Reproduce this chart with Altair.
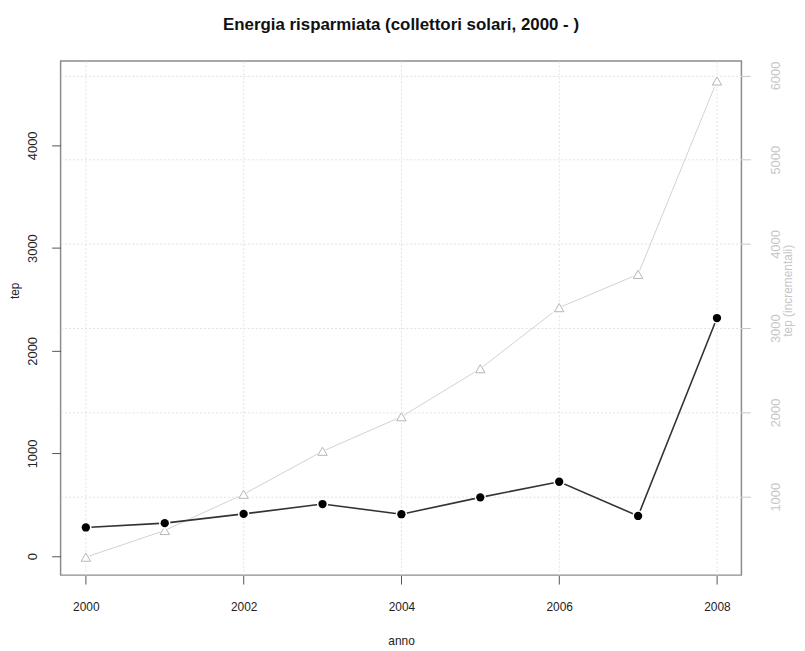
import altair as alt
import pandas as pd

# Data
anni = [2000, 2001, 2002, 2003, 2004, 2005, 2006, 2007, 2008]
tep = [280, 322, 412, 508, 409, 573, 725, 392, 2319]
tep_incrementali = [283, 600, 1030, 1540, 1950, 2520, 3245, 3640, 5935]

x_ticks = [2000, 2002, 2004, 2006, 2008]
left_ticks = [0, 1000, 2000, 3000, 4000]
right_ticks = [1000, 2000, 3000, 4000, 5000, 6000]

df = pd.DataFrame({"anno": anni, "tep": tep, "incr": tep_incrementali})

FONT = "Liberation Sans"
DARK = "#222222"
LIGHT = "#c6c6c6"
GRID = "#e2e2e2"

x_enc = alt.X(
    "anno:Q",
    scale=alt.Scale(domain=[1999.68, 2008.31], nice=False, zero=False),
    axis=alt.Axis(
        values=x_ticks, format="d", title="anno",
        grid=True, gridColor=GRID, gridDash=[2, 2], gridWidth=1,
        domain=False, tickSize=9, tickColor="#555555", tickWidth=1,
        labelPadding=18, labelFontSize=12, labelColor=DARK, labelFont=FONT,
        titleFontSize=12, titleFont=FONT, titleColor=DARK, titleFontWeight="normal",
        titlePadding=23, labelFlush=False,
    ),
)

yL = alt.Y(
    "tep:Q",
    scale=alt.Scale(domain=[-184, 4821], nice=False, zero=False),
    axis=alt.Axis(
        values=left_ticks, format="d", title="tep", orient="left",
        grid=False, domain=False, tickSize=9, tickColor="#555555",
        labelAngle=270, labelAlign="center", labelBaseline="bottom",
        labelPadding=12, labelFontSize=13, labelColor=DARK, labelFont=FONT,
        titleFontSize=12, titleFont=FONT, titleColor=DARK, titleFontWeight="normal",
        titlePadding=5, titleY=231,
    ),
)

yR = alt.Y(
    "incr:Q",
    scale=alt.Scale(domain=[70, 6172], nice=False, zero=False),
    axis=alt.Axis(
        values=right_ticks, format="d", title="tep (incrementali)", orient="right",
        grid=True, gridColor=GRID, gridDash=[2, 2], gridWidth=1,
        domain=False, tickSize=9, tickColor="#c8c8c8",
        labelAngle=270, labelAlign="center", labelBaseline="top",
        labelPadding=19, labelFontSize=13, labelColor=LIGHT, labelFont=FONT,
        titleFontSize=12, titleFont=FONT, titleColor=LIGHT, titleFontWeight="normal",
        titleAngle=270, titleBaseline="top", titlePadding=0, titleY=231,
    ),
)

base = alt.Chart(df)

gray_line = base.mark_line(color="#d2d2d2", strokeWidth=1).encode(x=x_enc, y=yR)
gray_halo = base.mark_point(shape="triangle-up", filled=True, color="white",
                            size=210, opacity=1).encode(x=x_enc, y=yR)
gray_pts = base.mark_point(shape="triangle-up", filled=False, color="#b5b5b5",
                           size=90, strokeWidth=1, opacity=1).encode(x=x_enc, y=yR)
gray = alt.layer(gray_line, gray_halo, gray_pts)

black_line = base.mark_line(color="#333333", strokeWidth=1.6).encode(x=x_enc, y=yL)
black_halo = base.mark_circle(color="white", size=130, opacity=1).encode(x=x_enc, y=yL)
black_pts = base.mark_circle(color="black", size=70, opacity=1).encode(x=x_enc, y=yL)
black = alt.layer(black_line, black_halo, black_pts)

chart = (
    alt.layer(gray, black)
    .resolve_scale(y="independent")
    .properties(
        width=686,
        height=518,
        autosize=alt.AutoSizeParams(type="none"),
        padding={"left": 53, "top": 51, "right": 56, "bottom": 73},
        background="white",
        title=alt.TitleParams(
            "Energia risparmiata (collettori solari, 2000 - )",
            fontSize=17, fontWeight="bold", font=FONT, color="#111111",
            anchor="middle", offset=14, baseline="alphabetic",
        ),
    )
    .configure_view(stroke="#8c8c8c", strokeWidth=1.5)
)

chart.save("out.html", embed_options={"renderer": "svg", "actions": False})
